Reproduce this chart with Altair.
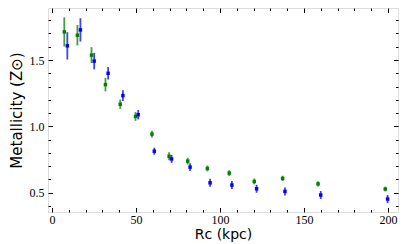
import altair as alt
import pandas as pd

green_r = [7.3, 15.1, 23.5, 31.8, 40.6, 49.7, 59.5, 69.7, 80.8, 92.5, 105.5, 120.4, 137.3, 158.4, 198.4]
green_z = [1.712, 1.687, 1.537, 1.315, 1.167, 1.075, 0.942, 0.775, 0.738, 0.683, 0.648, 0.585, 0.608, 0.567, 0.528]
green_err = [0.11, 0.077, 0.06, 0.051, 0.035, 0.033, 0.026, 0.03, 0.025, 0.022, 0.022, 0.022, 0.02, 0.02, 0.018]

blue_r = [9.1, 16.9, 25.1, 33.4, 42.2, 51.3, 60.9, 71.2, 82.2, 94.1, 107.1, 121.8, 138.7, 160.0, 199.8]
blue_z = [1.607, 1.727, 1.492, 1.40, 1.232, 1.088, 0.813, 0.755, 0.693, 0.575, 0.558, 0.530, 0.51, 0.483, 0.453]
blue_err = [0.103, 0.088, 0.062, 0.047, 0.041, 0.035, 0.026, 0.03, 0.03, 0.03, 0.03, 0.03, 0.03, 0.03, 0.03]

x_major = [0, 50, 100, 150, 200]
x_minor = [v for v in range(0, 210, 10) if v % 50 != 0]
y_major = [0.5, 1.0, 1.5]
y_minor = [round(0.4 + 0.1 * i, 1) for i in range(15) if round(0.4 + 0.1 * i, 1) not in (0.5, 1.0, 1.5)]

W, H = 350, 204
XDOM = [-2.4, 206]
YDOM = [0.355, 1.892]

rows = []
for r, z, e in zip(green_r, green_z, green_err):
    rows.append({"series": "green", "r": r, "z": z, "lo": z - e, "hi": z + e})
for r, z, e in zip(blue_r, blue_z, blue_err):
    rows.append({"series": "blue", "r": r, "z": z, "lo": z - e, "hi": z + e})
df = pd.DataFrame(rows)

xs = alt.Scale(domain=XDOM, nice=False, zero=False)
ys = alt.Scale(domain=YDOM, nice=False, zero=False)
cs = alt.Scale(domain=["green", "blue"], range=["#008000", "#0000ff"])

base = alt.Chart(df)

x_axis = alt.Axis(values=x_major, title="Rc (kpc)", ticks=False,
                  domain=False, grid=False, labelFont="Liberation Serif",
                  labelFontSize=12, labelPadding=2, labelColor="#000",
                  titleFont="DejaVu Sans", titleFontSize=14,
                  titleFontWeight="normal", titleColor="#000", titlePadding=2)
y_axis = alt.Axis(values=y_major, format=".1f", title="Metallicity (Z⊙)",
                  ticks=False, domain=False, grid=False,
                  labelFont="Liberation Serif", labelFontSize=12,
                  labelPadding=4, labelColor="#000",
                  titleFont="DejaVu Sans", titleFontSize=15,
                  titleFontWeight="normal", titleColor="#000", titlePadding=5)

bars = base.mark_rule(strokeWidth=1.8, opacity=0.75).encode(
    x=alt.X("r:Q", scale=xs, axis=x_axis),
    y=alt.Y("lo:Q", scale=ys, axis=y_axis), y2="hi:Q",
    color=alt.Color("series:N", scale=cs, legend=None),
)
pts = base.mark_point(filled=True, shape="square", size=12, opacity=1).encode(
    x=alt.X("r:Q", scale=xs, axis=None), y=alt.Y("z:Q", scale=ys, axis=None),
    color=alt.Color("series:N", scale=cs, legend=None),
)


def tick_layer(xorient, yorient, xvals, yvals, size):
    return base.mark_point(opacity=0).encode(
        x=alt.X("r:Q", scale=xs, axis=alt.Axis(orient=xorient, offset=-H, values=xvals, labels=False,
                                                domain=False, grid=False, title=None, tickSize=size,
                                                tickColor="#000", tickWidth=1)),
        y=alt.Y("z:Q", scale=ys, axis=alt.Axis(orient=yorient, offset=-W, values=yvals, labels=False,
                                                domain=False, grid=False, title=None, tickSize=size,
                                                tickColor="#000", tickWidth=1)),
    )


layers = [
    bars,
    tick_layer("top", "right", x_major, y_major, 4.5),
    tick_layer("top", "right", x_minor, y_minor, 2.5),
    tick_layer("bottom", "left", x_major, y_major, 4.5),
    tick_layer("bottom", "left", x_minor, y_minor, 2.5),
    pts,
]

chart = alt.layer(*layers).resolve_axis(x="independent", y="independent").properties(
    width=W, height=H,
    autosize=alt.AutoSizeParams(type="none"),
    padding={"left": 40, "top": 0, "right": 1, "bottom": 32},
).configure_view(stroke="#000", strokeWidth=1).configure(background="white")

chart.save("out.html", embed_options={"renderer": "svg", "actions": False})
